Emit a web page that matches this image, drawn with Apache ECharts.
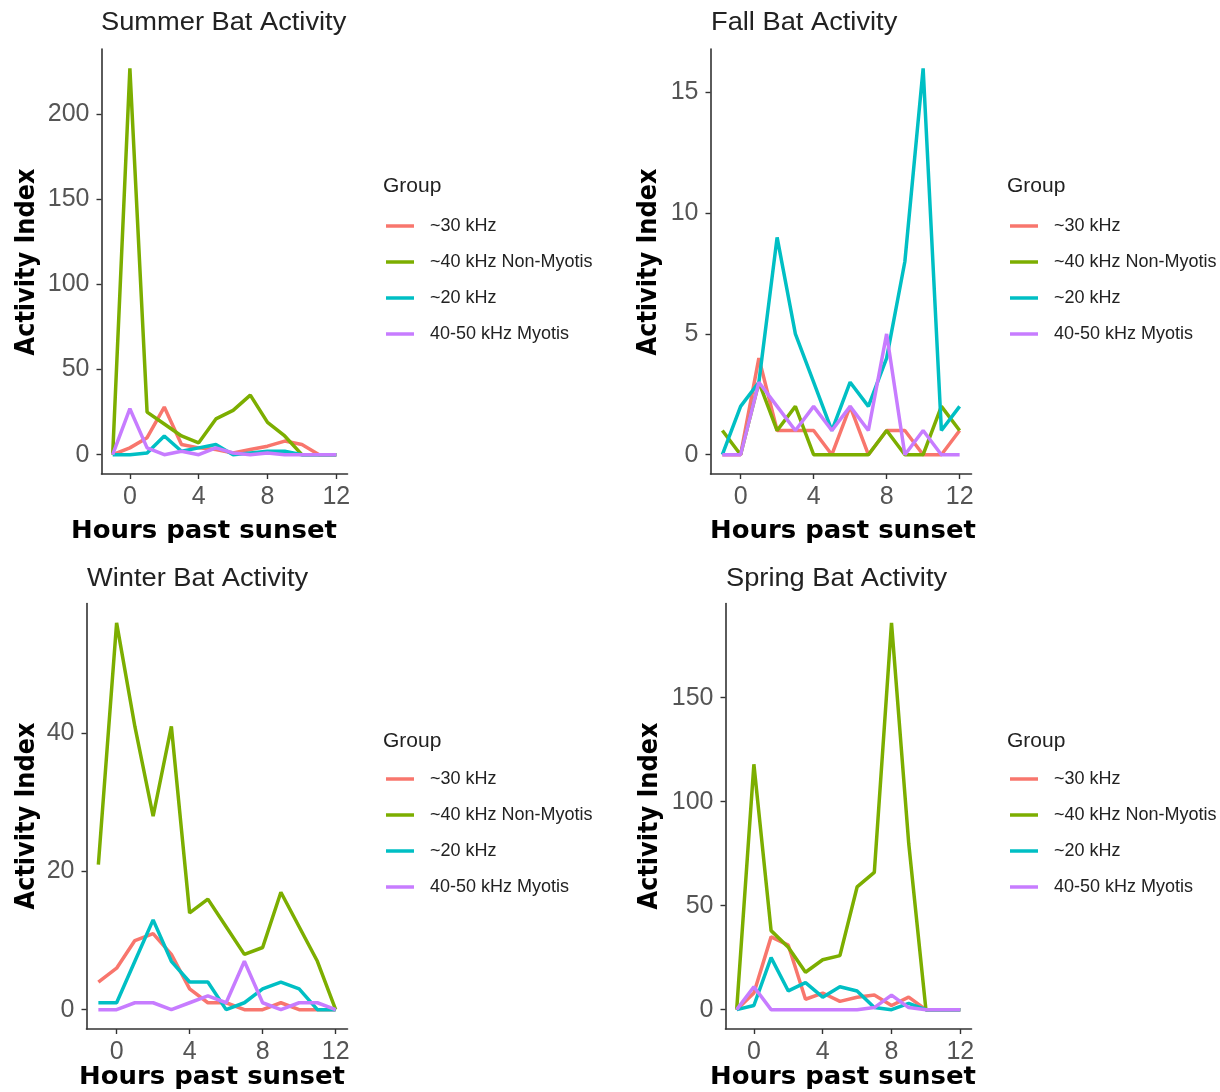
<!DOCTYPE html>
<html>
<head>
<meta charset="utf-8">
<title>Seasonal Bat Activity</title>
<script src="https://cdn.jsdelivr.net/npm/echarts@6/dist/echarts.min.js"></script>
<style>
  html, body { margin: 0; padding: 0; background: #ffffff; }
  #chart { width: 1220px; height: 1092px; }
</style>
</head>
<body>
<div id="chart"></div>
<script>
// Hours past sunset (x values shared by every panel)
const hours = [-1, 0, 1, 2, 3, 4, 5, 6, 7, 8, 9, 10, 11, 12];

// Group names, in legend order
const groups = ['~30 kHz', '~40 kHz Non-Myotis', '~20 kHz', '40-50 kHz Myotis'];
const groupColors = ['#F8766D', '#7CAE00', '#00BFC4', '#C77CFF'];

// Summer activity index per group
const summer30 = [0, 4, 10, 28, 6, 4, 3, 1, 3, 5, 8, 6, 0, 0];
const summer40 = [0, 227, 25, 18, 11, 7, 21, 26, 35, 19, 11, 0, 0, 0];
const summer20 = [0, 0, 1, 11, 2, 4, 6, 0, 1, 2, 2, 0, 0, 0];
const summerMyotis = [0, 27, 4, 0, 2, 0, 4, 1, 0, 1, 0, 0, 0, 0];

// Fall activity index per group
const fall30 = [0, 0, 4, 1, 1, 1, 0, 2, 0, 1, 1, 0, 0, 1];
const fall40 = [1, 0, 3, 1, 2, 0, 0, 0, 0, 1, 0, 0, 2, 1];
const fall20 = [0, 2, 3, 9, 5, 3, 1, 3, 2, 4, 8, 16, 1, 2];
const fallMyotis = [0, 0, 3, 2, 1, 2, 1, 2, 1, 5, 0, 1, 0, 0];

// Winter activity index per group
const winter30 = [4, 6, 10, 11, 8, 3, 1, 1, 0, 0, 1, 0, 0, 0];
const winter40 = [21, 56, 41, 28, 41, 14, 16, 12, 8, 9, 17, 12, 7, 0];
const winter20 = [1, 1, 7, 13, 7, 4, 4, 0, 1, 3, 4, 3, 0, 0];
const winterMyotis = [0, 0, 1, 1, 0, 1, 2, 1, 7, 1, 0, 1, 1, 0];

// Spring activity index per group
const spring30 = [0, 8, 35, 31, 5, 8, 4, 6, 7, 2, 6, 0, 0, 0];
const spring40 = [0, 118, 38, 30, 18, 24, 26, 59, 66, 186, 80, 0, 0, 0];
const spring20 = [0, 2, 25, 9, 13, 6, 11, 9, 1, 0, 3, 0, 0, 0];
const springMyotis = [0, 11, 0, 0, 0, 0, 0, 0, 1, 7, 1, 0, 0, 0];

// Tick labels
const xTicks = [0, 4, 8, 12];
const summerTicks = [0, 50, 100, 150, 200];
const fallTicks = [0, 5, 10, 15];
const winterTicks = [0, 20, 40];
const springTicks = [0, 50, 100, 150];

const panels = [
  { title: 'Summer Bat Activity', series: [summer30, summer40, summer20, summerMyotis], yTicks: summerTicks,
    grid: { left: 101.5, top: 49, width: 246, height: 425 },
    titlePos: [101, 23], yTitle: [27, 262], xTitle: [204, 532], legend: [386, 216], group: [383, 186] },
  { title: 'Fall Bat Activity', series: [fall30, fall40, fall20, fallMyotis], yTicks: fallTicks,
    grid: { left: 710.5, top: 49, width: 261, height: 425 },
    titlePos: [711, 23], yTitle: [649, 262], xTitle: [843, 532], legend: [1010, 216], group: [1007, 186] },
  { title: 'Winter Bat Activity', series: [winter30, winter40, winter20, winterMyotis], yTicks: winterTicks,
    grid: { left: 86.5, top: 603.5, width: 261, height: 425.5 },
    titlePos: [87, 579], yTitle: [27, 816], xTitle: [212, 1078], legend: [386, 769], group: [383, 741] },
  { title: 'Spring Bat Activity', series: [spring30, spring40, spring20, springMyotis], yTicks: springTicks,
    grid: { left: 725.5, top: 603.5, width: 246, height: 425.5 },
    titlePos: [726, 579], yTitle: [650, 816], xTitle: [843, 1078], legend: [1010, 769], group: [1007, 741] }
];

const axisColor = '#333333';
const tickText = { color: '#555555', fontSize: 25, fontFamily: 'Liberation Sans, Arial, sans-serif' };

const grids = [], xAxes = [], yAxes = [], series = [], legends = [], graphics = [];

// x range padded by 5% each side
const xSpan = Math.max(...hours) - Math.min(...hours);
const xMin = Math.min(...hours) - 0.05 * xSpan;
const xMax = Math.max(...hours) + 0.05 * xSpan;

panels.forEach((p, i) => {
  grids.push(Object.assign({ containLabel: false }, p.grid));

  const all = p.series.flat();
  const lo = Math.min(0, ...all), hi = Math.max(...all);
  const pad = 0.05 * (hi - lo);

  xAxes.push({
    type: 'value', gridIndex: i, min: xMin, max: xMax,
    axisLine: { onZero: false, lineStyle: { color: axisColor, width: 1.6 } },
    axisTick: { show: true, length: 5, customValues: xTicks, lineStyle: { color: axisColor, width: 1.4 } },
    axisLabel: Object.assign({ customValues: xTicks, margin: 11 }, tickText),
    splitLine: { show: false }
  });
  yAxes.push({
    type: 'value', gridIndex: i, min: lo - pad, max: hi + pad,
    axisLine: { show: true, onZero: false, lineStyle: { color: axisColor, width: 1.6 } },
    axisTick: { show: true, length: 5, customValues: p.yTicks, lineStyle: { color: axisColor, width: 1.4 } },
    axisLabel: Object.assign({ customValues: p.yTicks, margin: 12, padding: [4, 0, 0, 0] }, tickText),
    splitLine: { show: false }
  });

  p.series.forEach((vals, k) => {
    series.push({
      type: 'line', name: groups[k], xAxisIndex: i, yAxisIndex: i,
      data: hours.map((h, j) => [h, vals[j]]),
      showSymbol: false, symbol: 'none', silent: true,
      color: groupColors[k],
      lineStyle: { color: groupColors[k], width: 3.5 },
      z: 2 + k
    });
  });

  legends.push({
    orient: 'vertical', left: p.legend[0], top: p.legend[1], padding: 0,
    data: groups, icon: 'rect', itemWidth: 28, itemHeight: 3.5, itemGap: 16,
    selectedMode: false,
    textStyle: { color: '#222222', fontSize: 18, lineHeight: 20, padding: [0, 0, 0, 11],
      fontFamily: 'Liberation Sans, Arial, sans-serif' }
  });

  // Panel title
  graphics.push({
    type: 'text', x: p.titlePos[0], y: p.titlePos[1], scaleX: 1.09,
    style: { text: p.title, fill: '#222222', fontSize: 25, fontFamily: 'Liberation Sans, Arial, sans-serif',
      align: 'left', verticalAlign: 'middle' }
  });
  // Legend heading
  graphics.push({
    type: 'text', x: p.group[0], y: p.group[1],
    style: { text: 'Group', fill: '#222222', fontSize: 21, fontFamily: 'Liberation Sans, Arial, sans-serif',
      align: 'left', verticalAlign: 'middle' }
  });
  // Axis titles
  graphics.push({
    type: 'text', x: p.xTitle[0], y: p.xTitle[1], scaleX: 1.08,
    style: { text: 'Hours past sunset', fill: '#000000', fontSize: 24, fontWeight: 'bold',
      fontFamily: 'DejaVu Sans, sans-serif', align: 'center', verticalAlign: 'middle' }
  });
  graphics.push({
    type: 'text', x: p.yTitle[0], y: p.yTitle[1], rotation: Math.PI / 2, scaleY: 1.08,
    style: { text: 'Activity Index', fill: '#000000', fontSize: 24, fontWeight: 'bold',
      fontFamily: 'DejaVu Sans, sans-serif', align: 'center', verticalAlign: 'middle' }
  });
});

const chart = echarts.init(document.getElementById('chart'), null, { renderer: 'canvas' });
chart.setOption({
  animation: false,
  backgroundColor: '#ffffff',
  grid: grids,
  xAxis: xAxes,
  yAxis: yAxes,
  legend: legends,
  series: series,
  graphic: graphics
});
</script>
</body>
</html>
